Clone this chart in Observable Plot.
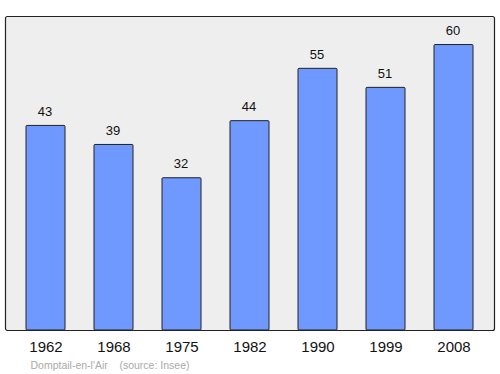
<!DOCTYPE html>
<html><head><meta charset="utf-8">
<script src="https://cdn.jsdelivr.net/npm/d3@7"></script>
<script src="https://cdn.jsdelivr.net/npm/@observablehq/plot@0.6"></script>
<style>body{margin:0;background:#fff;font-family:"Liberation Sans",Arial,sans-serif}</style>
</head><body><div id="chart"></div>
<script>
const years = ["1962","1968","1975","1982","1990","1999","2008"];
const population = [43,39,32,44,55,51,60];
const caption = "Domptail-en-l'Air    (source: Insee)";
const data = years.map((y,i)=>({year:y, pop:population[i]}));
const chart = Plot.plot({
  width:500, height:374,
  marginLeft:5, marginRight:6, marginTop:16, marginBottom:44,
  style:{fontFamily:"Liberation Sans, Arial, sans-serif", background:"#fff"},
  x:{type:"band", domain:years, paddingInner:0.43, paddingOuter:0.3, axis:null, label:null},
  y:{domain:[0,66], axis:null},
  marks:[
    Plot.frame({fill:"#eeeeee", stroke:"#222", strokeWidth:1.2, rx:2}),
    Plot.barY(data,{x:"year", y:"pop", fill:"#7099ff", stroke:"#222", strokeWidth:1, rx:1}),
    Plot.text(data,{x:"year", y:"pop", text:d=>String(d.pop), dy:-14, dx:-1, fontSize:13, fill:"#111"}),
    Plot.axisX({tickSize:0, tickPadding:11, fontSize:15, color:"#111", label:null}),
    Plot.text([caption],{frameAnchor:"bottom-left", dx:25, dy:38, text:d=>d, fontSize:10.5, fill:"#aaa", textAnchor:"start", lineAnchor:"bottom"})
  ]
});
chart.querySelectorAll("text").forEach(t=>t.setAttribute("xml:space","preserve"));
chart.style.whiteSpace = "pre";
document.getElementById("chart").append(chart);
</script></body></html>
